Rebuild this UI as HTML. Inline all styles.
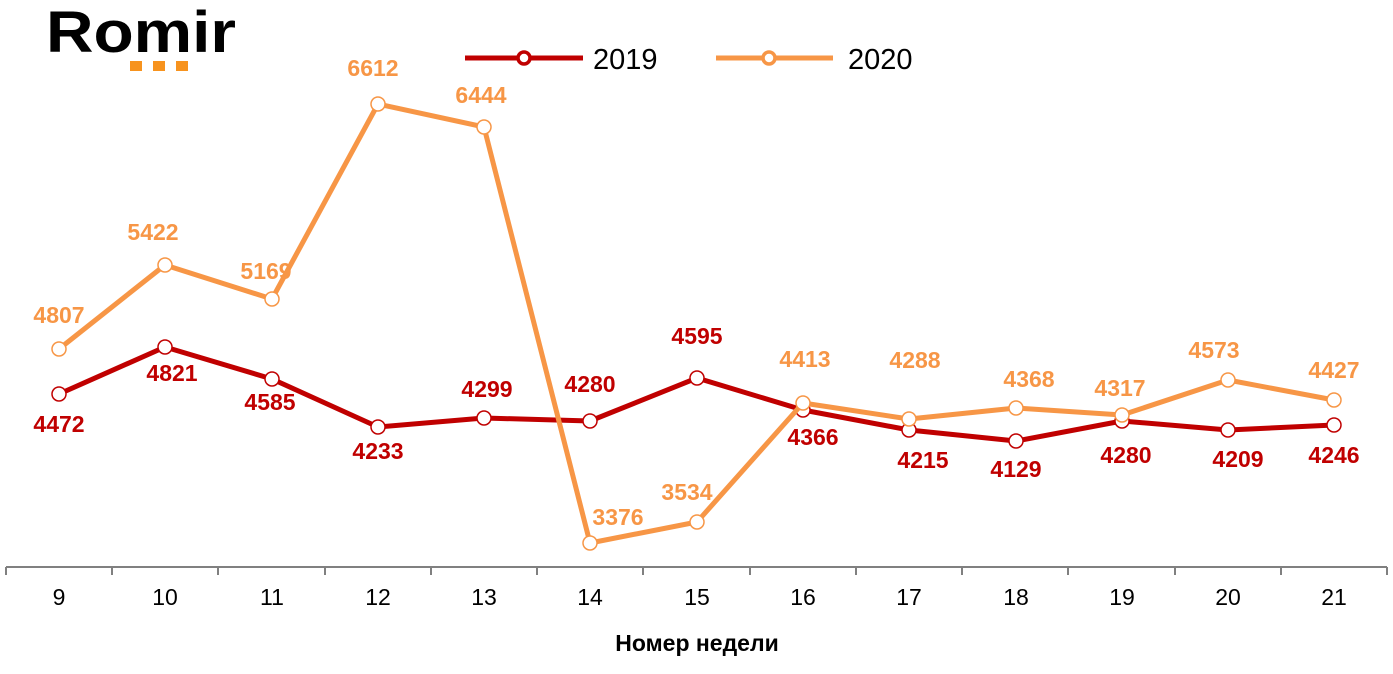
<!DOCTYPE html>
<html><head><meta charset="utf-8"><style>
html,body{margin:0;padding:0;background:#fff;}
svg{display:block;font-family:"Liberation Sans",Arial,sans-serif;}
</style></head><body>
<svg width="1393" height="674" viewBox="0 0 1393 674">
<text x="46" y="52" font-size="58" font-weight="bold" fill="#000" textLength="190" lengthAdjust="spacingAndGlyphs">Romir</text>
<rect x="130" y="61" width="12" height="10" fill="#f7931e"/>
<rect x="153" y="61" width="12" height="10" fill="#f7931e"/>
<rect x="176" y="61" width="12" height="10" fill="#f7931e"/>
<line x1="465" y1="58" x2="583" y2="58" stroke="#c00000" stroke-width="5"/>
<circle cx="524" cy="58" r="6" fill="#fff" stroke="#c00000" stroke-width="3.5"/>
<text x="593" y="69" font-size="29" fill="#000">2019</text>
<line x1="716" y1="58" x2="833" y2="58" stroke="#f79646" stroke-width="5"/>
<circle cx="769" cy="58" r="6" fill="#fff" stroke="#f79646" stroke-width="3.5"/>
<text x="848" y="69" font-size="29" fill="#000">2020</text>
<g stroke="#808080" stroke-width="2">
<line x1="6" y1="567" x2="1387" y2="567"/>
<line x1="6" y1="567" x2="6" y2="575"/><line x1="112" y1="567" x2="112" y2="575"/><line x1="218" y1="567" x2="218" y2="575"/><line x1="325" y1="567" x2="325" y2="575"/><line x1="431" y1="567" x2="431" y2="575"/><line x1="537" y1="567" x2="537" y2="575"/><line x1="643" y1="567" x2="643" y2="575"/><line x1="750" y1="567" x2="750" y2="575"/><line x1="856" y1="567" x2="856" y2="575"/><line x1="962" y1="567" x2="962" y2="575"/><line x1="1068" y1="567" x2="1068" y2="575"/><line x1="1175" y1="567" x2="1175" y2="575"/><line x1="1281" y1="567" x2="1281" y2="575"/><line x1="1387" y1="567" x2="1387" y2="575"/>
</g>
<g font-size="23" fill="#000" text-anchor="middle">
<text x="59" y="605">9</text><text x="165" y="605">10</text><text x="272" y="605">11</text><text x="378" y="605">12</text><text x="484" y="605">13</text><text x="590" y="605">14</text><text x="697" y="605">15</text><text x="803" y="605">16</text><text x="909" y="605">17</text><text x="1016" y="605">18</text><text x="1122" y="605">19</text><text x="1228" y="605">20</text><text x="1334" y="605">21</text>
</g>
<text x="697" y="651" font-size="23" font-weight="bold" text-anchor="middle" fill="#000">Номер недели</text>
<polyline fill="none" stroke="#c00000" stroke-width="5" stroke-linejoin="round" points="59,394 165,347 272,379 378,427 484,418 590,421 697,378 803,410 909,430 1016,441 1122,421 1228,430 1334,425"/>
<g fill="#fff" stroke="#c00000" stroke-width="1.5">
<circle cx="59" cy="394" r="7"/><circle cx="165" cy="347" r="7"/><circle cx="272" cy="379" r="7"/><circle cx="378" cy="427" r="7"/><circle cx="484" cy="418" r="7"/><circle cx="590" cy="421" r="7"/><circle cx="697" cy="378" r="7"/><circle cx="803" cy="410" r="7"/><circle cx="909" cy="430" r="7"/><circle cx="1016" cy="441" r="7"/><circle cx="1122" cy="421" r="7"/><circle cx="1228" cy="430" r="7"/><circle cx="1334" cy="425" r="7"/>
</g>
<polyline fill="none" stroke="#f79646" stroke-width="5" stroke-linejoin="round" points="59,349 165,265 272,299 378,104 484,127 590,543 697,522 803,403 909,419 1016,408 1122,415 1228,380 1334,400"/>
<g fill="#fff" stroke="#f79646" stroke-width="1.5">
<circle cx="59" cy="349" r="7"/><circle cx="165" cy="265" r="7"/><circle cx="272" cy="299" r="7"/><circle cx="378" cy="104" r="7"/><circle cx="484" cy="127" r="7"/><circle cx="590" cy="543" r="7"/><circle cx="697" cy="522" r="7"/><circle cx="803" cy="403" r="7"/><circle cx="909" cy="419" r="7"/><circle cx="1016" cy="408" r="7"/><circle cx="1122" cy="415" r="7"/><circle cx="1228" cy="380" r="7"/><circle cx="1334" cy="400" r="7"/>
</g>
<g font-size="23" font-weight="bold" fill="#f79646" text-anchor="middle">
<text x="59" y="323">4807</text><text x="153" y="240">5422</text><text x="266" y="279">5169</text><text x="373" y="76">6612</text><text x="481" y="103">6444</text><text x="618" y="525">3376</text><text x="687" y="500">3534</text><text x="805" y="367">4413</text><text x="915" y="368">4288</text><text x="1029" y="387">4368</text><text x="1120" y="396">4317</text><text x="1214" y="358">4573</text><text x="1334" y="378">4427</text>
</g>
<g font-size="23" font-weight="bold" fill="#c00000" text-anchor="middle">
<text x="59" y="432">4472</text><text x="172" y="381">4821</text><text x="270" y="410">4585</text><text x="378" y="459">4233</text><text x="487" y="397">4299</text><text x="590" y="392">4280</text><text x="697" y="344">4595</text><text x="813" y="445">4366</text><text x="923" y="468">4215</text><text x="1016" y="477">4129</text><text x="1126" y="463">4280</text><text x="1238" y="467">4209</text><text x="1334" y="463">4246</text>
</g>
</svg>
</body></html>
